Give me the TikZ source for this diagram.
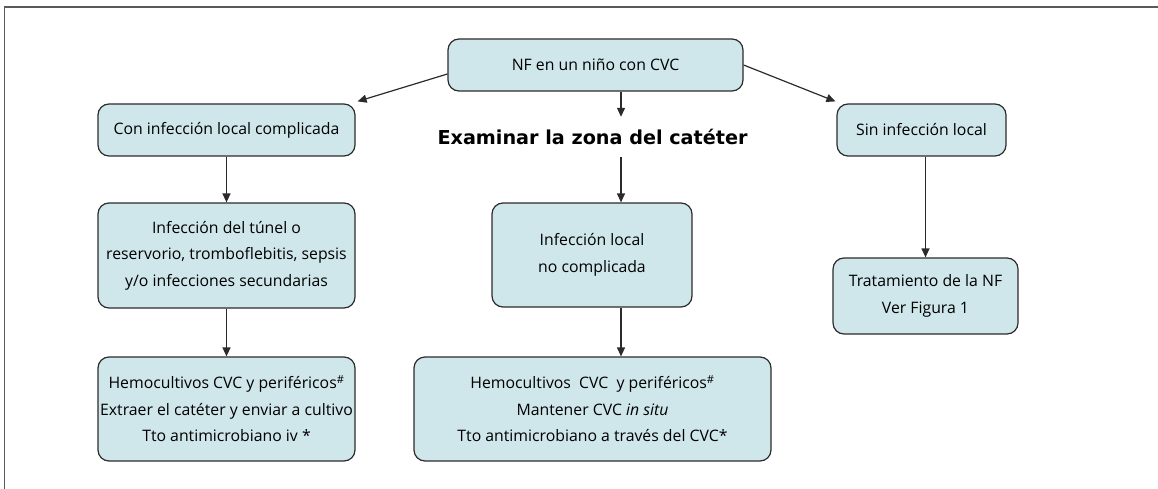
\documentclass[tikz,border=0pt]{standalone}
\usepackage{fontspec}
\setmainfont{Open Sans}
\newfontfamily\examfont{DejaVu Sans}
\usetikzlibrary{arrows.meta,calc}
\definecolor{boxfill}{HTML}{CFE6EB}
\definecolor{boxline}{HTML}{2B2B2B}
\definecolor{framecol}{HTML}{5A5A5A}
\begin{document}
\begin{tikzpicture}[x=1pt,y=-1pt,
  box/.style={draw=boxline,fill=boxfill,line width=1.2pt,rounded corners=11pt,
    align=center,inner sep=0pt,font=\fontsize{15.8}{26.5}\selectfont},
  arr/.style={draw=boxline,line width=1.2pt,-{Triangle[length=9pt,width=8pt]}}]
\useasboundingbox (0,0) rectangle (1158,489);
\draw[framecol,line width=1.6pt] (4.5,489) -- (4.5,7) -- (1158,7);
\coordinate (mx) at (621,0);
\node[box,minimum width=295pt,minimum height=52pt] (top) at (595.5,65) {NF en un niño con CVC};
\node[box,minimum width=257pt,minimum height=52pt] (con) at (226.5,130) {Con infección local complicada};
\node[inner sep=0pt,minimum height=40pt,font=\examfont\fontsize{19.2}{22}\selectfont\bfseries] (exam) at (592.5,137) {Examinar la zona del catéter};
\node[box,minimum width=169pt,minimum height=52pt] (sin) at (921.5,130) {Sin infección local};
\node[box,minimum width=257pt,minimum height=105pt] (tunel) at (226.5,255.5) {Infección del túnel o\\reservorio, tromboflebitis, sepsis\\y/o infecciones secundarias};
\node[box,minimum width=200pt,minimum height=104pt] (nocomp) at (592,255) {Infección local\\no complicada};
\node[box,minimum width=185pt,minimum height=76pt] (trat) at (925.5,296) {Tratamiento de la NF\\Ver Figura 1};
\node[box,minimum width=257pt,minimum height=104pt] (hemoL) at (226.5,409) {Hemocultivos CVC y periféricos\textsuperscript{\#}\\Extraer el catéter y enviar a cultivo\\Tto antimicrobiano iv *};
\node[box,minimum width=357pt,minimum height=104pt] (hemoM) at (592.5,409) {Hemocultivos\ \ CVC\ \ y periféricos\textsuperscript{\#}\\Mantener CVC \textit{in situ}\\Tto antimicrobiano a través del CVC*};
\draw[arr] ([yshift=-9pt]top.west) -- ([shift={(2pt,2pt)}]con.north east);
\draw[arr] (top.east) -- ([shift={(-1pt,2pt)}]sin.north west);
\draw[arr] (top.south -| mx) -- (exam.north -| mx);
\draw[arr] (exam.south -| mx) -- (nocomp.north -| mx);
\draw[arr] (nocomp.south -| mx) -- (hemoM.north -| mx);
\draw[arr] (con.south) -- (tunel.north);
\draw[arr] (tunel.south) -- (hemoL.north);
\draw[arr] (sin.south -| trat.north) -- (trat.north);
\end{tikzpicture}
\end{document}
